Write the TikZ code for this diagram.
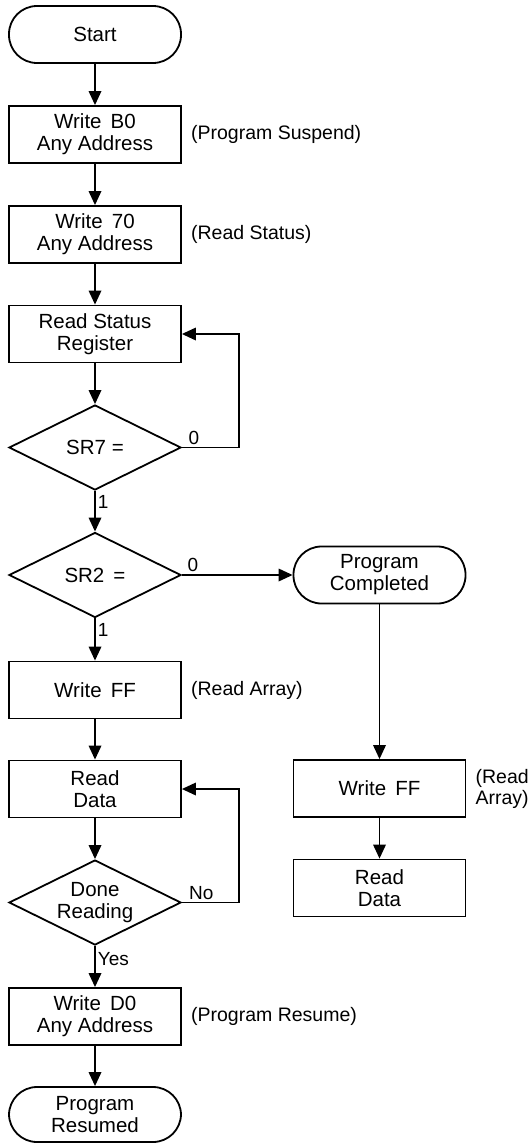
\documentclass[tikz,border=0pt]{standalone}
\usepackage{fontspec}
\setmainfont{Liberation Sans}
\usepackage{tikz}
\usetikzlibrary{shapes,arrows.meta,positioning}
\tikzstyle{line} = [draw, line width=1.8pt, -{Triangle[length=14pt, width=12.5pt]}]
\tikzstyle{block} = [rectangle, draw, line width=1.8pt, minimum width=172pt, minimum height=57pt, inner sep=2pt, text centered, align=center, font=\fontsize{20.5}{22}\selectfont]
\tikzstyle{term} = [block, rounded corners=28pt]
\tikzstyle{decision} = [diamond, draw, line width=1.8pt, aspect=2, inner sep=0pt, minimum width=172pt, minimum height=85pt, align=center, font=\fontsize{20.5}{22}\selectfont]
\tikzstyle{note} = [inner sep=0pt, align=left, font=\fontsize{19.5}{21}\selectfont]
\tikzstyle{lbl} = [inner sep=2pt, font=\fontsize{19}{21}\selectfont]

\begin{document}
\begin{tikzpicture}[x=1pt, y=-1pt]
	\useasboundingbox (0,0) rectangle (531,1144);
	% main column
	\node [term] (start) at (95,34.5) {Start};
	\node [block, below of=start, node distance=100pt] (b0) {Write \,B0\\Any Address};
	\node [block, below of=b0, node distance=100pt] (w70) {Write \,70\\Any Address};
	\node [block, below of=w70, node distance=99.5pt] (rsr) {Read Status\\Register};
	\node [decision, below of=rsr, node distance=113.5pt] (sr7) {SR7 =};
	\node [decision, below of=sr7, node distance=127.5pt] (sr2) {SR2 \,=};
	\node [block, below of=sr2, node distance=115pt] (wff) {Write \,FF};
	\node [block, below of=wff, node distance=99pt] (rd) {Read\\Data};
	\node [decision, below of=rd, node distance=113.5pt] (done) {Done\\Reading};
	\node [block, below of=done, node distance=114pt] (wd0) {Write \,D0\\Any Address};
	\node [term, below of=wd0, node distance=98pt, minimum height=55pt] (pr) {Program\\Resumed};
	% right column
	\node [term, right of=sr2, node distance=284.5pt] (pc) {Program\\Completed};
	\node [block, below of=pc, node distance=213.5pt] (wff2) {Write \,FF};
	\node [block, below of=wff2, node distance=99.5pt] (rd2) {Read\\Data};
	% notes
	\node [note, right=9pt of b0] (nb0) {(Program Suspend)};
	\node [note, right=9pt of w70] (nw70) {(Read Status)};
	\node [note, right=9pt of wff] (nwff) {(Read Array)};
	\node [note, right=9pt of wff2] (nwff2) {(Read\\Array)};
	\node [note, right=9pt of wd0] (nwd0) {(Program Resume)};
	% arrows
	\path [line] (start) to (b0);
	\path [line] (b0) to (w70);
	\path [line] (w70) to (rsr);
	\path [line] (rsr) to (sr7);
	\path [line] (sr7.south) to node [lbl, right, pos=0.27] {1} (sr2.north);
	\path [line] (sr7.east) -- node [lbl, above, pos=0.21] {0} ++(57,0) |- (rsr.east);
	\path [line] (sr2.east) to node [lbl, above, pos=0.1] {0} (pc.west);
	\path [line] (sr2.south) to node [lbl, right, pos=0.27] {1} (wff.north);
	\path [line] (wff) to (rd);
	\path [line] (rd) to (done);
	\path [line] (done.east) -- node [lbl, above, pos=0.34] {No} ++(57,0) |- (rd.east);
	\path [line] (done.south) to node [lbl, right, pos=0.32] {Yes} (wd0.north);
	\path [line] (wd0) to (pr);
	\path [line] (pc) to (wff2);
	\path [line] (wff2) to (rd2);
\end{tikzpicture}
\end{document}
